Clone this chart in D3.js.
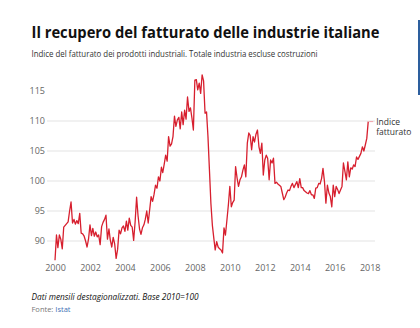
<!DOCTYPE html>
<html>
<head>
<meta charset="utf-8">
<script src="https://cdn.jsdelivr.net/npm/d3@7"></script>
<style>
  body { margin: 0; background: #fff; }
  svg { display: block; font-family: "Open Sans", sans-serif; }
</style>
</head>
<body>
<script>
// indice del fatturato, dati mensili, gen 2000 - dic 2017
let values = [
    86.8, 91.0, 88.9, 91.0, 90.3, 88.7, 92.3, 92.6, 92.9, 93.2, 95.0, 96.5,
    93.0, 93.6, 92.8, 93.4, 92.9, 94.6, 91.3, 91.2, 90.8, 90.0, 89.0, 90.3,
    92.7, 90.9, 92.1, 90.8, 91.5, 90.7, 91.0, 89.4, 92.4, 93.1, 93.6, 94.3,
    90.3, 92.0, 90.2, 89.0, 90.6, 89.5, 87.1, 88.6, 91.8, 91.2, 92.2, 92.5,
    91.6, 93.3, 91.8, 93.8, 92.6, 92.3, 90.1, 93.2, 97.3, 94.2, 92.0, 91.1,
    92.2, 92.7, 93.6, 95.0, 93.0, 95.2, 97.4, 96.6, 97.8, 99.3, 98.8, 100.7,
    100.0, 102.3, 101.4, 102.8, 104.3, 103.3, 107.4, 105.8, 106.2, 107.4, 110.8, 109.1,
    110.2, 110.6, 108.7, 111.5, 109.4, 111.8, 110.3, 114.0, 111.6, 112.2, 110.5, 108.5,
    116.8, 116.9, 115.2, 116.3, 114.6, 117.7, 116.7, 111.3, 111.5, 107.4, 101.8, 96.3,
    92.6, 90.4, 88.5, 89.9, 89.0, 88.7, 88.5, 88.0, 92.2, 91.0, 93.5, 96.0,
    99.1, 95.7, 96.4, 96.8, 102.4, 100.5, 99.1, 100.2, 100.7, 101.8, 102.7, 100.7,
    106.3, 108.0, 107.6, 105.2, 107.4, 106.5, 107.8, 108.5, 105.7, 104.6, 106.3, 101.0,
    103.5, 104.3, 103.8, 100.2, 103.5, 103.0, 103.8, 99.6, 99.8, 99.5, 99.3, 99.1,
    98.0, 96.9, 97.3, 98.0, 98.5, 98.4, 99.1, 99.6, 98.9, 99.4, 99.9, 98.9,
    100.4, 98.9, 98.9, 98.4, 98.2, 98.0, 97.9, 98.4, 97.7, 97.7, 97.1, 98.8,
    98.9, 99.6, 99.5, 100.4, 102.1, 99.9, 96.3, 99.3, 98.0, 97.4, 95.7, 99.3,
    97.4, 99.1, 98.6, 97.9, 98.5, 99.1, 103.0, 101.6, 100.2, 103.2, 100.7, 102.2,
    102.0, 102.7, 102.4, 104.0, 103.6, 104.1, 104.6, 105.7, 105.0, 106.0, 107.1, 109.9
]
let yTicks = [90, 95, 100, 105, 110, 115]
let gridTicks = [90, 95, 100, 105, 110]
let xTicks = [2000, 2002, 2004, 2006, 2008, 2010, 2012, 2014, 2016, 2018]
let seriesLabel = ["Indice", "fatturato"]

let data = values.map((v, i) => ({date: new Date(2000, i, 1), value: v}))

let w = 420
let h = 328
let svg = d3.select("body").append("svg")
    .attr("width", w)
    .attr("height", h)

let xScale = d3.scaleTime()
    .domain([new Date(2000, 0, 1), new Date(2018, 0, 1)])
    .range([55, 369.7])
let yScale = d3.scaleLinear()
    .domain([86, 118])
    .range([265, 73])

// titolo
svg.append("text")
    .attr("x", 31.5)
    .attr("y", 37.5)
    .attr("font-size", 15.5)
    .attr("font-weight", "bold")
    .attr("fill", "#111")
    .attr("textLength", 348)
    .attr("lengthAdjust", "spacingAndGlyphs")
    .text("Il recupero del fatturato delle industrie italiane")
svg.append("text")
    .attr("x", 31.5)
    .attr("y", 57)
    .attr("font-size", 8.5)
    .attr("fill", "#333")
    .attr("textLength", 286)
    .attr("lengthAdjust", "spacingAndGlyphs")
    .text("Indice del fatturato dei prodotti industriali. Totale industria escluse costruzioni")

svg.append("rect")
    .attr("x", 418).attr("y", 20)
    .attr("width", 2).attr("height", 75)
    .attr("fill", "#2d5f9e")

// griglia
svg.append("g")
    .selectAll("line")
    .data(gridTicks)
    .enter()
    .append("line")
    .attr("x1", 47)
    .attr("x2", 375)
    .attr("y1", d => yScale(d))
    .attr("y2", d => yScale(d))
    .attr("stroke", "#e3e3e3")
    .attr("stroke-width", 1)

let yAxis = d3.axisLeft(yScale).tickValues(yTicks).tickSize(0).tickPadding(0)
svg.append("g")
    .attr("transform", "translate(45,0)")
    .call(yAxis)
    .call(g => g.select(".domain").remove())
    .call(g => g.selectAll("text")
        .attr("font-family", "Open Sans, sans-serif")
        .attr("font-size", 9)
        .attr("fill", "#666"))

let xAxis = d3.axisBottom(xScale)
    .tickValues(xTicks.map(y => new Date(y, 0, 1)))
    .tickFormat(d3.timeFormat("%Y"))
    .tickSize(0)
    .tickPadding(0)
svg.append("g")
    .attr("transform", "translate(0,265)")
    .call(xAxis)
    .call(g => g.select(".domain").remove())
    .call(g => g.selectAll("text")
        .attr("font-family", "Open Sans, sans-serif")
        .attr("font-size", 9)
        .attr("fill", "#666"))

let line = d3.line()
    .x(d => xScale(d.date))
    .y(d => yScale(d.value))
svg.append("path")
    .datum(data)
    .attr("d", line)
    .attr("fill", "none")
    .attr("stroke", "#d71f2e")
    .attr("stroke-width", 1.3)
    .attr("stroke-linejoin", "round")

let last = data[data.length - 1]
svg.append("line")
    .attr("x1", xScale(last.date) + 1)
    .attr("x2", xScale(last.date) + 5)
    .attr("y1", yScale(last.value))
    .attr("y2", yScale(last.value))
    .attr("stroke", "#f2a3ab")
    .attr("stroke-width", 1)
svg.selectAll(".lab")
    .data(seriesLabel)
    .enter()
    .append("text")
    .attr("class", "lab")
    .attr("x", xScale(last.date) + 8)
    .attr("y", (d, i) => yScale(last.value) + 3.5 + i * 10)
    .attr("font-size", 8.5)
    .attr("fill", "#333")
    .text(d => d)

// note
svg.append("text")
    .attr("x", 31.5)
    .attr("y", 300)
    .attr("font-size", 9)
    .attr("font-style", "italic")
    .attr("fill", "#111")
    .attr("textLength", 167)
    .attr("lengthAdjust", "spacingAndGlyphs")
    .text("Dati mensili destagionalizzati. Base 2010=100")
let fonte = svg.append("text")
    .attr("x", 31.5)
    .attr("y", 312)
    .attr("font-size", 7.5)
    .attr("fill", "#777")
fonte.append("tspan").text("Fonte: ")
fonte.append("tspan").attr("fill", "#3f73b5").text("Istat")
</script>
</body>
</html>
